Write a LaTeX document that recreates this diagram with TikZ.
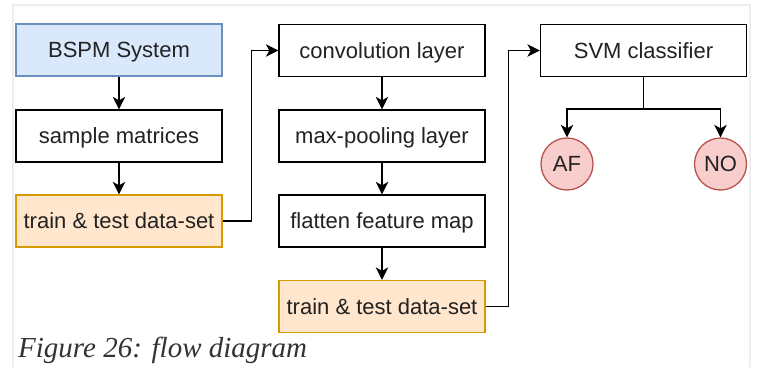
\documentclass[tikz,border=0pt]{standalone}
\usepackage{fontspec}
\setmainfont{Liberation Serif}
\newfontfamily\boxfont{Liberation Sans}
\usetikzlibrary{arrows.meta}
\definecolor{blueFill}{HTML}{DAE8FC}
\definecolor{blueLine}{HTML}{6C8EBF}
\definecolor{orangeFill}{HTML}{FFE6CC}
\definecolor{orangeLine}{HTML}{D79B00}
\definecolor{redFill}{HTML}{F8CECC}
\definecolor{redLine}{HTML}{B85450}
\definecolor{frameGray}{HTML}{EEEEEE}
\definecolor{textGray}{HTML}{222222}
\definecolor{captionGray}{HTML}{333333}
\tikzset{
  stagebox/.style={draw=black, fill=white, line width=1.3pt, minimum width=206pt,
    minimum height=52pt, inner sep=0pt, text=textGray,
    text height=15.8pt, text depth=0pt,
    font=\boxfont\fontsize{22}{26}\selectfont},
  inputbox/.style={stagebox, draw=blueLine, fill=blueFill},
  databox/.style={stagebox, draw=orangeLine, fill=orangeFill},
  classnode/.style={circle, draw=redLine, fill=redFill, line width=1.3pt,
    minimum size=52pt, inner sep=0pt, text=textGray,
    text height=15.8pt, text depth=0pt,
    font=\boxfont\fontsize{22}{26}\selectfont},
  flow/.style={draw=black, line width=1.3pt,
    -{Stealth[length=12.5pt,width=12.5pt,inset=3.5pt]}},
  link/.style={draw=black, line width=1.3pt}
}
\begin{document}
\begin{tikzpicture}[x=1pt, y=-1pt]
  \useasboundingbox (0,0) rectangle (758,367);
  \fill[white] (0,0) rectangle (758,367);
  % page frame
  \draw[frameGray, line width=1.5pt] (13,367) -- (13,5) -- (750,5) -- (750,367);

  % first column
  \node[inputbox] (bspm) at (119,50) {BSPM System};
  \node[stagebox] (sample) at (119,136) {sample matrices};
  \node[databox] (tt1) at (119,221) {train \& test data-set};

  % second column
  \node[stagebox] (conv) at (382,50.5) {convolution layer};
  \node[stagebox] (pool) at (382,136) {max-pooling layer};
  \node[stagebox] (flat) at (382,221) {flatten feature map};
  \node[databox] (tt2) at (382,306.5) {train \& test data-set};

  % classifier and outcomes
  \node[stagebox] (svm) at (643.5,50.5) {SVM classifier};
  \node[classnode] (af) at (567,164) {AF};
  \node[classnode] (no) at (720.5,164) {NO};
  \coordinate (split) at (643.5,109);

  % connectors
  \draw[flow] (bspm) -- (sample);
  \draw[flow] (sample) -- (tt1);
  \draw[flow] (tt1.east) -- (251.5,221) |- (conv.west);
  \draw[flow] (conv) -- (pool);
  \draw[flow] (pool) -- (flat);
  \draw[flow] (flat) -- (tt2);
  \draw[flow] (tt2.east) -- (508.5,306.5) |- (svm.west);
  \draw[link] (svm.south) -- (split);
  \draw[flow] (split) -| (af.north);
  \draw[flow] (split) -| (no.north);

  % caption
  \node[anchor=base west, inner sep=0pt, text=captionGray,
    font=\itshape\fontsize{29}{32}\selectfont] (cap) at (18,357) {Figure 26: flow diagram};
\end{tikzpicture}
\end{document}
